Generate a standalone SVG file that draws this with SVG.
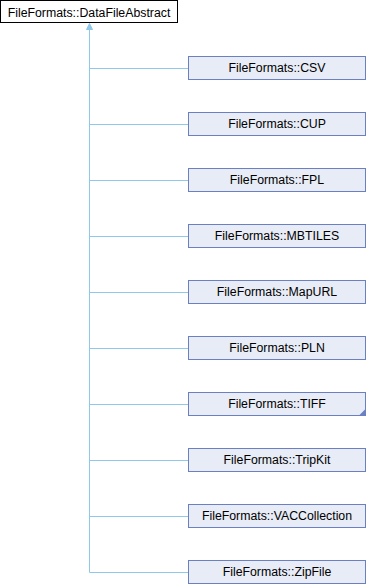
<svg xmlns="http://www.w3.org/2000/svg" width="366" height="584" viewBox="0 0 366 584">
<style>
.n rect{fill:#e8ecf6;stroke:#6a80c2;stroke-width:1}
.root rect{fill:#ffffff;stroke:#000000;stroke-width:1}
text{font-family:"Liberation Sans",Arial,sans-serif;font-size:12.3px;fill:#000;text-anchor:middle}
.e{stroke:#8fc8e8;stroke-width:1;fill:none}
</style>
<rect width="366" height="584" fill="#ffffff"/>
<g id="connectors">
<path class="e" d="M89.5,29 V572.5"/>
<path class="e" d="M89.5,68.5 H188 M89.5,124.5 H188 M89.5,180.5 H188 M89.5,236.5 H188 M89.5,292.5 H188 M89.5,348.5 H188 M89.5,404.5 H188 M89.5,460.5 H188 M89.5,516.5 H188 M89.5,572.5 H188"/>
<polygon points="89.5,23.5 86.5,29.5 92.5,29.5" fill="#8fc8e8" stroke="#8fc8e8" stroke-width="1"/>
</g>
<g id="DataFileAbstract" class="root"><rect x="0.5" y="0.5" width="177" height="22"/><text x="89" y="16.5">FileFormats::DataFileAbstract</text></g>
<g id="CSV" class="n"><rect x="188.5" y="56.5" width="177" height="23"/><text x="277" y="72">FileFormats::CSV</text></g>
<g id="CUP" class="n"><rect x="188.5" y="112.5" width="177" height="23"/><text x="277" y="128">FileFormats::CUP</text></g>
<g id="FPL" class="n"><rect x="188.5" y="168.5" width="177" height="23"/><text x="277" y="184">FileFormats::FPL</text></g>
<g id="MBTILES" class="n"><rect x="188.5" y="224.5" width="177" height="23"/><text x="277" y="240">FileFormats::MBTILES</text></g>
<g id="MapURL" class="n"><rect x="188.5" y="280.5" width="177" height="23"/><text x="277" y="296">FileFormats::MapURL</text></g>
<g id="PLN" class="n"><rect x="188.5" y="336.5" width="177" height="23"/><text x="277" y="352">FileFormats::PLN</text></g>
<g id="TIFF" class="n"><rect x="188.5" y="392.5" width="177" height="23"/><polygon points="365.5,409 365.5,415.5 359,415.5" fill="#6a80c2"/><text x="277" y="408">FileFormats::TIFF</text></g>
<g id="TripKit" class="n"><rect x="188.5" y="448.5" width="177" height="23"/><text x="277" y="464">FileFormats::TripKit</text></g>
<g id="VACCollection" class="n"><rect x="188.5" y="504.5" width="177" height="23"/><text x="277" y="520">FileFormats::VACCollection</text></g>
<g id="ZipFile" class="n"><rect x="188.5" y="560.5" width="177" height="23"/><text x="277" y="576">FileFormats::ZipFile</text></g>
</svg>
